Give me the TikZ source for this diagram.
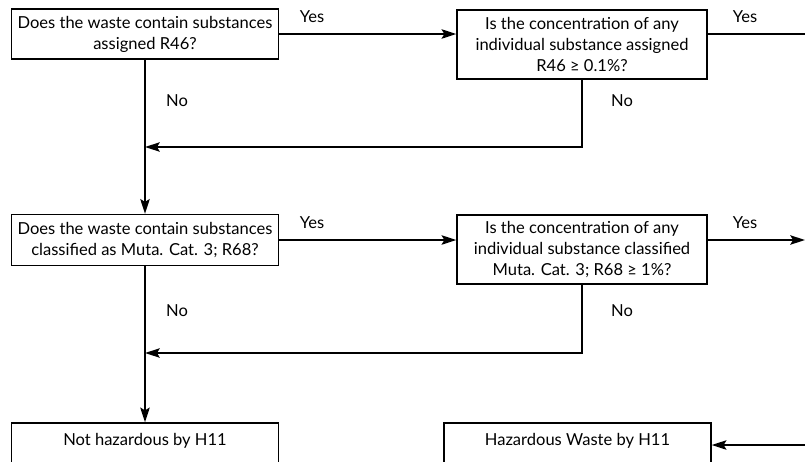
\documentclass[tikz,border=0pt]{standalone}
\usepackage{fontspec}
\setmainfont{Lato}
\usetikzlibrary{arrows.meta}
\begin{document}
\begin{tikzpicture}[x=0.75pt,y=-0.75pt,
  box/.style={draw=black, line width=1pt, fill=white, align=center,
    inner sep=0pt, font=\fontsize{12.4}{15.75}\selectfont},
  txt/.style={font=\fontsize{12.4}{15.75}\selectfont, inner sep=0pt},
  flow/.style={line width=1.5pt, draw=black},
  tip/.style={-{Stealth[length=11pt,width=7pt,inset=2pt]}}]
\useasboundingbox (0,0) rectangle (805,461);
\clip (0,0) rectangle (805,461);

% decision boxes
\node[box, minimum width=267*0.75pt, minimum height=50*0.75pt] (b1) at (145,34)
  {Does the waste contain substances\\assigned R46?};
\node[box, minimum width=250*0.75pt, minimum height=69*0.75pt] (b2) at (582,44.5)
  {Is the concentration of any\\individual substance assigned\\R46 ≥ 0.1\%?};
\node[box, minimum width=267*0.75pt, minimum height=51*0.75pt] (b3) at (145,240)
  {Does the waste contain substances\\classified as Muta. Cat. 3; R68?};
\node[box, minimum width=250*0.75pt, minimum height=69*0.75pt] (b4) at (582,249.5)
  {Is the concentration of any\\individual substance classified\\Muta. Cat. 3; R68 ≥ 1\%?};

% outcome boxes
\node[box, minimum width=267*0.75pt, minimum height=50*0.75pt] (b5) at (145,448) {};
\node[txt] (t5) at (145,441) {Not hazardous by H11};
\node[box, minimum width=267*0.75pt, minimum height=50*0.75pt] (b6) at (577.5,448) {};
\node[txt] (t6) at (577.5,441) {Hazardous Waste by H11};

% junctions and page-edge ends
\coordinate (j1) at (145,147);
\coordinate (j2) at (145,353);
\coordinate (out1) at (815,34);
\coordinate (out2) at (805,240);
\coordinate (in3) at (815,445);

% connectors
\draw[flow,tip] (b1.east) -- (b2.west |- b1.east);
\draw[flow] (b2.east |- b1.east) -- (out1);
\draw[flow,tip] (b1.south) -- (b3.north);
\draw[flow,tip] (b2.south) |- (j1);
\draw[flow,tip] (b3.east) -- (b4.west |- b3.east);
\draw[flow,tip] (b4.east |- b3.east) -- (out2);
\draw[flow,tip] (b3.south) -- (b5.north);
\draw[flow,tip] (b4.south) |- (j2);
\draw[flow,tip] (in3) -- (b6.east |- in3);

% branch labels
\node[txt] (y1) at (312,17) {Yes};
\node[txt] (y2) at (745,17) {Yes};
\node[txt] (n1) at (177,101) {No};
\node[txt] (n2) at (622,101) {No};
\node[txt] (y3) at (312,223) {Yes};
\node[txt] (y4) at (745,223) {Yes};
\node[txt] (n3) at (177,311) {No};
\node[txt] (n4) at (622,311) {No};
\end{tikzpicture}
\end{document}
